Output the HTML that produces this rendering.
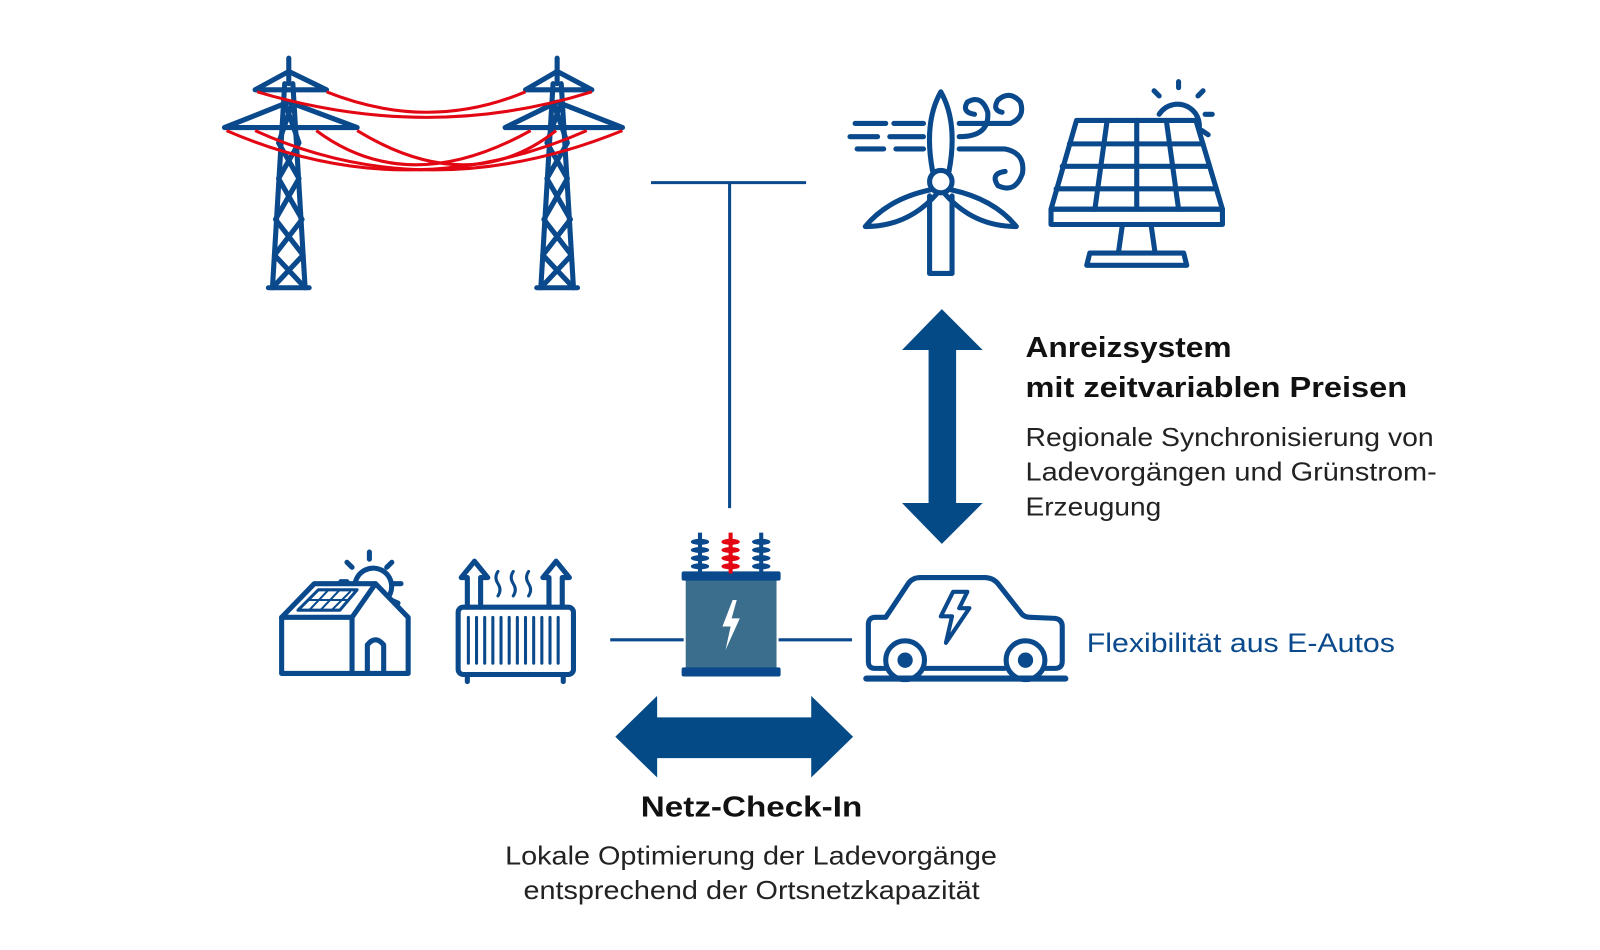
<!DOCTYPE html>
<html><head><meta charset="utf-8"><style>
html,body{margin:0;padding:0;background:#fff;}
svg{display:block}
text{font-family:"Liberation Sans","DejaVu Sans",sans-serif;}
</style></head><body>
<svg width="1600" height="950" viewBox="0 0 1568 931" xmlns="http://www.w3.org/2000/svg">
<rect width="1568" height="931" fill="#fff"/>
<g fill="none" stroke="#0a4a8c" stroke-width="5" stroke-linejoin="round" stroke-linecap="round">
<!-- left tower -->
<path d="M283,57 L283,82 M279,82 L267,282 M287,82 L299,282 M263,282 L303,282"/>
<path d="M250,88 L320,88 M283,70 L250,88 M283,70 L320,88 M220,125 L350,125 M283,100 L220,125 M283,100 L350,125"/>
<path d="M279,100 L293,140 L273,175 L296,215 L269,250 L299,282 M287,100 L273,140 L293,175 L270,215 L297,250 L267,282"/>
<!-- right tower -->
<path d="M546,57 L546,82 M542,82 L530,282 M550,82 L562,282 M526,282 L566,282"/>
<path d="M515,88 L580,88 M546,70 L515,88 M546,70 L580,88 M495,125 L610,125 M546,100 L495,125 M546,100 L610,125"/>
<path d="M542,100 L556,140 L536,175 L559,215 L532,250 L562,282 M550,100 L536,140 L556,175 L533,215 L560,250 L530,282"/>
</g>
<g fill="none" stroke="#e30613" stroke-width="3">
<path d="M252,90 Q420,140 580,90"/>
<path d="M320,90 Q420,130 515,90"/>
<path d="M222,128 Q400,205 575,128"/>
<path d="M250,128 Q420,205 610,128"/>
<path d="M310,128 Q400,195 520,128"/>
<path d="M350,128 Q460,195 545,128"/>
</g>
<!-- T connector -->
<g stroke="#0a4a8c" stroke-width="3">
<line x1="638" y1="179" x2="790" y2="179"/>
<line x1="715" y1="179" x2="715" y2="498"/>
<line x1="598" y1="627" x2="670" y2="627"/>
<line x1="763" y1="627" x2="835" y2="627"/>
</g>
<!-- wind turbine -->
<g fill="none" stroke="#0a4a8c" stroke-width="5" stroke-linecap="round" stroke-linejoin="round">
<path d="M911,192 L911,268 L933,268 L933,192"/>
<circle cx="922" cy="178" r="11"/>
<path d="M914,168 Q905,120 922,90 Q939,120 930,168"/>
<path d="M912,186 Q870,195 848,222 Q890,222 918,190"/>
<path d="M932,186 Q974,195 996,222 Q954,222 926,190"/>
<path d="M838,121 L868,121 M876,121 L905,121 M940,121 L990,121 Q1005,115 1000,100 Q990,88 978,98 Q972,108 982,110"/>
<path d="M833,134 L860,134 M872,134 L905,134 M940,134 Q970,134 968,110 Q962,92 948,100 Q942,110 955,112"/>
<path d="M840,146 L866,146 M878,146 L905,146 M940,146 L985,146 Q1005,150 1002,170 Q995,190 978,182 Q970,170 985,168"/>
</g>
<!-- solar panel -->
<g fill="none" stroke="#0a4a8c" stroke-width="5" stroke-linejoin="round" stroke-linecap="round">
<path d="M1136,112 A20,20 0 1 1 1172,135"/>
<path d="M1155,86 L1155,80 M1136,94 L1131,89 M1174,94 L1179,89 M1181,112 L1188,112 M1178,128 L1184,132"/>
<path d="M1055,118 L1172,118 L1198,205 L1030,205 Z" fill="#fff"/>
<path d="M1030,205 L1198,205 L1198,220 L1030,220 Z"/>
<path d="M1048,141 L1179,141 M1041,163 L1185,163 M1035,185 L1192,185"/>
<path d="M1085,118 L1073,205 M1114,118 L1114,205 M1143,118 L1155,205"/>
<path d="M1100,220 L1096,248 M1128,220 L1132,248 M1068,248 L1160,248 L1163,260 L1065,260 Z"/>
</g>
<!-- vertical arrow -->
<path d="M923,303 L963,343 L937,343 L937,493 L963,493 L923,533 L884,493 L910,493 L910,343 L884,343 Z" fill="#044a86"/>
<!-- horizontal arrow -->
<path d="M603,722 L644,682 L644,703 L795,703 L795,682 L836,722 L795,762 L795,743 L644,743 L644,762 Z" fill="#044a86"/>
<!-- house -->
<g fill="none" stroke="#0a4a8c" stroke-width="5" stroke-linejoin="round" stroke-linecap="round">
<path d="M348,572 A18,18 0 1 1 378,588"/>
<path d="M362,548 L362,541 M345,556 L340,551 M379,556 L384,551 M386,572 L393,572 M383,588 L390,591 M340,570 L334,570"/>
<path d="M276,605 L308,572 L368,572 L400,605 L400,660 L276,660 Z" fill="#fff"/>
<path d="M368,572 L345,605 L345,660 M276,605 L345,605"/>
<path d="M360,660 L360,632 Q368,622 376,632 L376,660"/>
<path d="M292,598 L312,578 L350,578 L333,598 Z" stroke-width="3"/>
<path d="M302,588 L341,588 M303,598 L322,578 M314,598 L333,578 M325,598 L343,580" stroke-width="2"/>
</g>
<!-- radiator -->
<g fill="none" stroke="#0a4a8c" stroke-width="5" stroke-linejoin="round" stroke-linecap="round">
<rect x="449" y="595" width="113" height="66" rx="5"/>
<path d="M459,605 L459,650 M467,605 L467,650 M475,605 L475,650 M483,605 L483,650 M491,605 L491,650 M499,605 L499,650 M507,605 L507,650 M515,605 L515,650 M523,605 L523,650 M531,605 L531,650 M539,605 L539,650 M547,605 L547,650" stroke-width="3"/>
<path d="M458,661 L458,668 M552,661 L552,668"/>
<path d="M458,595 L458,566 L452,566 L465,550 L478,566 L471,566 L471,595"/>
<path d="M538,595 L538,566 L532,566 L545,550 L558,566 L551,566 L551,595"/>
<path d="M488,560 Q484,566 488,572 Q492,578 488,584 M503,560 Q499,566 503,572 Q507,578 503,584 M518,560 Q514,566 518,572 Q522,578 518,584" stroke-width="3"/>
</g>
<!-- transformer -->
<rect x="672" y="566" width="89" height="90" fill="#3a6e8c"/>
<rect x="668" y="560" width="97" height="9" rx="2" fill="#0a4a8c"/>
<rect x="668" y="654" width="97" height="9" rx="2" fill="#0a4a8c"/>
<path d="M718,588 L708,614 L716,614 L711,637 L725,606 L717,606 L722,588 Z" fill="#fff"/>
<g>
<rect x="684" y="522" width="4" height="40" fill="#0a4a8c"/>
<rect x="714" y="522" width="4" height="40" fill="#e30613"/>
<rect x="744" y="522" width="4" height="40" fill="#0a4a8c"/>
<g fill="#0a4a8c"><ellipse cx="686" cy="531" rx="9" ry="3"/><ellipse cx="686" cy="539" rx="9" ry="3"/><ellipse cx="686" cy="547" rx="9" ry="3"/><ellipse cx="686" cy="555" rx="9" ry="3"/>
<ellipse cx="746" cy="531" rx="9" ry="3"/><ellipse cx="746" cy="539" rx="9" ry="3"/><ellipse cx="746" cy="547" rx="9" ry="3"/><ellipse cx="746" cy="555" rx="9" ry="3"/></g>
<g fill="#e30613"><ellipse cx="716" cy="531" rx="9" ry="3"/><ellipse cx="716" cy="539" rx="9" ry="3"/><ellipse cx="716" cy="547" rx="9" ry="3"/><ellipse cx="716" cy="555" rx="9" ry="3"/></g>
</g>
<!-- car -->
<g fill="none" stroke="#0a4a8c" stroke-width="5" stroke-linejoin="round" stroke-linecap="round">
<path d="M868,655 L857,655 Q851,655 851,648 L851,612 Q851,605 858,605 L868,605 L890,572 Q894,566 902,566 L965,566 Q973,566 978,572 L1000,600 Q1003,605 1010,605 L1034,606 Q1041,607 1041,614 L1041,648 Q1041,655 1034,655 L1024,655"/>
<path d="M906,655 L985,655"/>
<circle cx="887" cy="647" r="19"/><circle cx="1005" cy="647" r="19"/>
<circle cx="887" cy="647" r="5" fill="#0a4a8c"/><circle cx="1005" cy="647" r="5" fill="#0a4a8c"/>
<path d="M849,665 L1044,665" stroke-width="6"/>
<path d="M934,580 L948,580 L940,596 L950,596 L927,630 L933,604 L922,604 Z" stroke-width="4"/>
</g>
<!-- texts -->
<text x="1005" y="350" font-size="28" font-weight="bold" fill="#111" textLength="202" lengthAdjust="spacingAndGlyphs">Anreizsystem</text>
<text x="1005" y="389" font-size="28" font-weight="bold" fill="#111" textLength="374" lengthAdjust="spacingAndGlyphs">mit zeitvariablen Preisen</text>
<text x="1005" y="437" font-size="25" fill="#222" textLength="400" lengthAdjust="spacingAndGlyphs">Regionale Synchronisierung von</text>
<text x="1005" y="471" font-size="25" fill="#222" textLength="403" lengthAdjust="spacingAndGlyphs">Ladevorgängen und Grünstrom-</text>
<text x="1005" y="505" font-size="25" fill="#222" textLength="133" lengthAdjust="spacingAndGlyphs">Erzeugung</text>
<text x="1065" y="639" font-size="26" fill="#0a4a8c" textLength="302" lengthAdjust="spacingAndGlyphs">Flexibilität aus E-Autos</text>
<text x="628" y="800" font-size="28" font-weight="bold" fill="#111" textLength="217" lengthAdjust="spacingAndGlyphs">Netz-Check-In</text>
<text x="495" y="847" font-size="25" fill="#222" textLength="482" lengthAdjust="spacingAndGlyphs">Lokale Optimierung der Ladevorgänge</text>
<text x="513" y="881" font-size="25" fill="#222" textLength="447" lengthAdjust="spacingAndGlyphs">entsprechend der Ortsnetzkapazität</text>
</svg>
</body></html>
